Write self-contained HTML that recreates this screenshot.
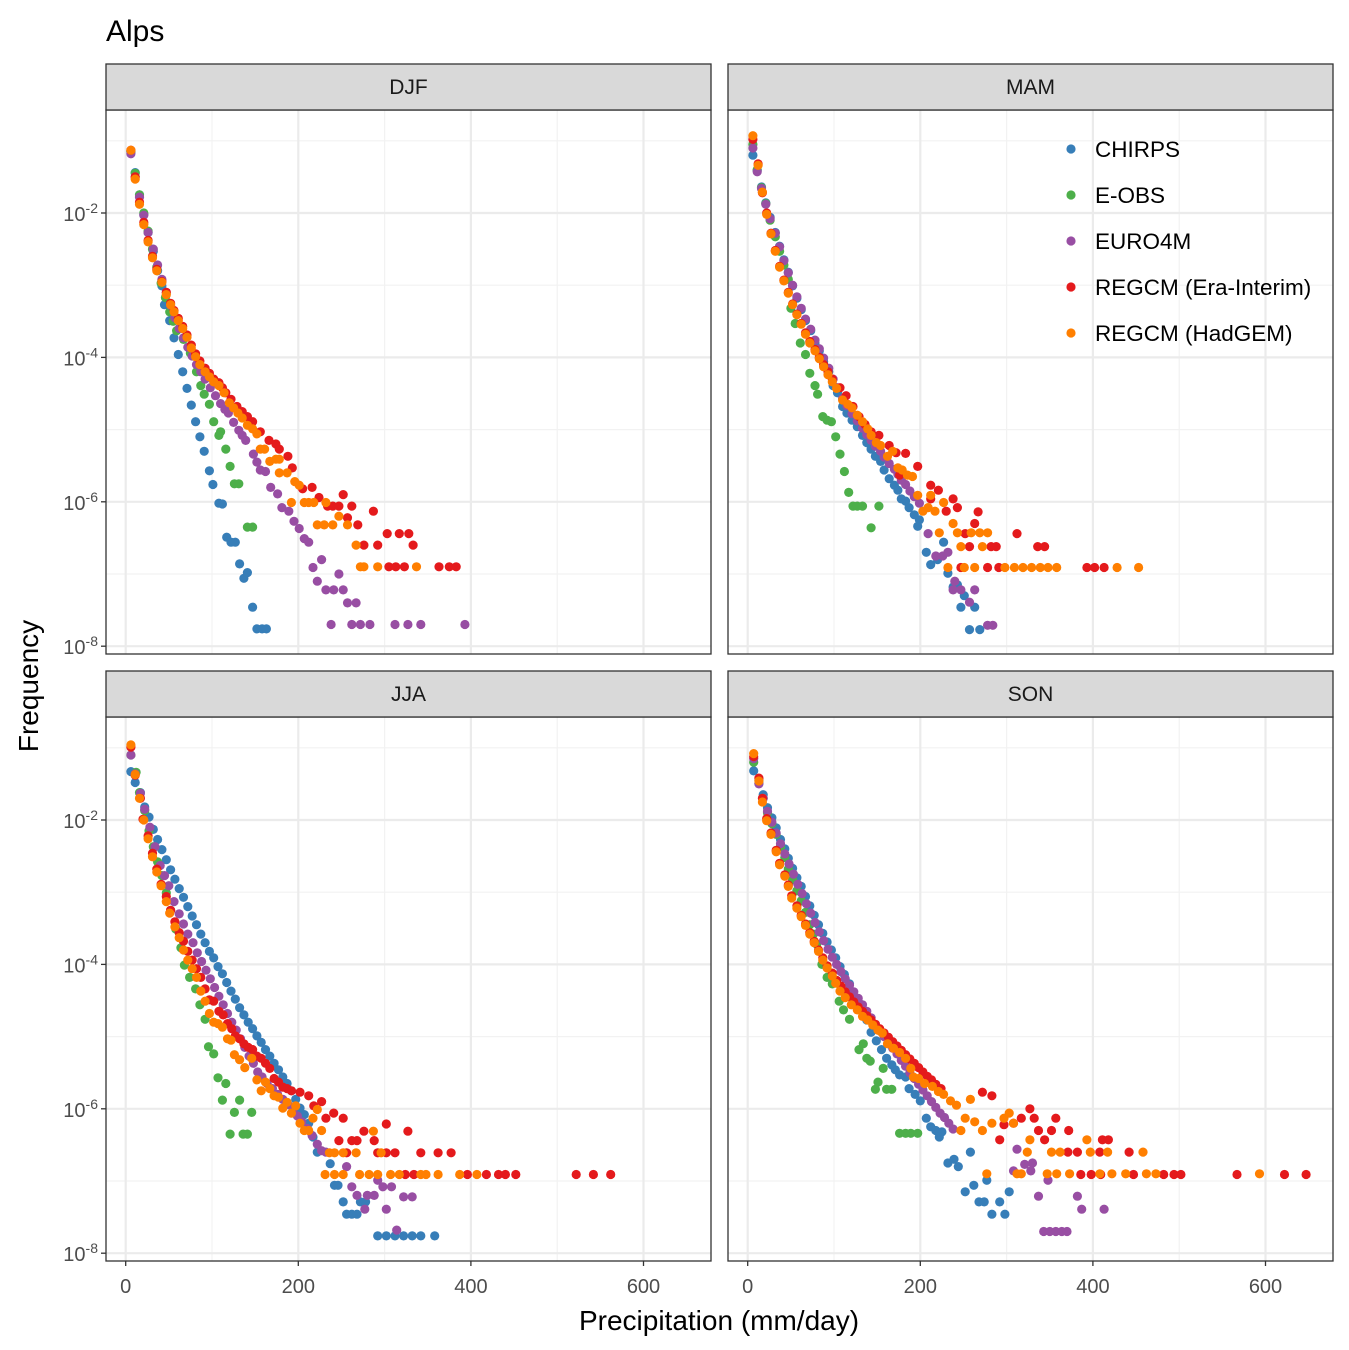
<!DOCTYPE html>
<html><head><meta charset="utf-8"><style>
html,body{margin:0;padding:0;background:#fff;}
svg{display:block;font-family:"Liberation Sans",Arial,sans-serif;}
</style></head><body>
<svg id="chart" width="1349" height="1350" viewBox="0 0 1349 1350" xmlns="http://www.w3.org/2000/svg">
<text x="106" y="41" font-size="30" fill="#000">Alps</text>
<text transform="translate(38,686) rotate(-90)" text-anchor="middle" font-size="28" fill="#000">Frequency</text>
<text x="719" y="1330" text-anchor="middle" font-size="28" fill="#000">Precipitation (mm/day)</text>
<g id="panels"></g>
<g id="legend"></g>
</svg>
<script>
const seriesNames = ["CHIRPS","E-OBS","EURO4M","REGCM (Era-Interim)","REGCM (HadGEM)"];
const seriesColors = ["#377EB8","#4DAF4A","#984EA3","#E41A1C","#FF7F00"];
const panelNames = ["DJF","MAM","JJA","SON"];
const xTickValues = [0,200,400,600];
const xTickLabels = ["0","200","400","600"];
const yTickExponents = [-2,-4,-6,-8];
const yTickLabels = ["-2","-4","-6","-8"];

// each point: [precipitation mm/day, log10(frequency)]
const djfChirps = [[6,-1.15],[11,-1.44],[16,-1.75],[21,-2.02],[26,-2.27],[32,-2.53],[37,-2.8],[42,-3.01],[45,-3.27],[51,-3.49],[56,-3.73],[61,-3.96],[66,-4.2],[71,-4.43],[76,-4.66],[81,-4.89],[86,-5.1],[91,-5.3],[97,-5.57],[101,-5.76],[108,-6.02],[112,-6.03],[117,-6.49],[122,-6.56],[127,-6.56],[132,-6.86],[137,-7.06],[141,-6.98],[147,-7.46],[152,-7.76],[158,-7.76],[163,-7.76]];
const djfEobs = [[6,-1.15],[11,-1.45],[16,-1.75],[21,-2.0],[26,-2.25],[31,-2.5],[36,-2.75],[41,-2.97],[46,-3.17],[51,-3.37],[55,-3.5],[59,-3.63],[67,-3.75],[75,-3.94],[82,-4.2],[87,-4.39],[91,-4.51],[97,-4.65],[102,-4.89],[110,-5.03],[108,-5.08],[116,-5.27],[121,-5.51],[126,-5.75],[131,-5.75],[141,-6.35],[147,-6.35]];
const djfEuro = [[6,-1.18],[11,-1.5],[16,-1.78],[21,-2.03],[26,-2.27],[32,-2.5],[37,-2.72],[42,-2.92],[47,-3.1],[52,-3.28],[57,-3.45],[62,-3.6],[67,-3.73],[72,-3.86],[77,-3.98],[82,-4.1],[87,-4.2],[92,-4.3],[98,-4.42],[104,-4.53],[110,-4.64],[115,-4.72],[119,-4.77],[125,-4.9],[131,-5.01],[135,-5.08],[139,-5.15],[148,-5.34],[152,-5.45],[156,-5.56],[162,-5.58],[168,-5.8],[176,-5.89],[181,-6.08],[189,-6.13],[195,-6.27],[201,-6.37],[207,-6.51],[212,-6.56],[217,-6.91],[227,-6.8],[222,-7.1],[247,-7.0],[232,-7.22],[241,-7.22],[252,-7.22],[257,-7.4],[267,-7.4],[238,-7.7],[262,-7.7],[272,-7.7],[283,-7.7],[312,-7.7],[327,-7.7],[342,-7.7],[393,-7.7]];
const djfRegEra = [[6,-1.13],[11,-1.5],[16,-1.85],[21,-2.13],[26,-2.38],[31,-2.6],[36,-2.78],[42,-2.95],[47,-3.1],[52,-3.25],[56,-3.35],[61,-3.46],[66,-3.57],[71,-3.69],[76,-3.83],[81,-3.95],[86,-4.05],[92,-4.15],[97,-4.22],[102,-4.3],[108,-4.35],[112,-4.42],[116,-4.49],[122,-4.58],[129,-4.68],[135,-4.75],[141,-4.82],[147,-4.89],[156,-5.03],[166,-5.15],[174,-5.2],[178,-5.27],[188,-5.37],[193,-5.53],[205,-5.82],[216,-5.8],[224,-5.94],[234,-6.06],[240,-6.06],[247,-6.06],[252,-5.9],[262,-6.06],[257,-6.22],[269,-6.32],[287,-6.13],[303,-6.44],[317,-6.44],[328,-6.44],[276,-6.6],[292,-6.6],[333,-6.6],[305,-6.9],[313,-6.9],[323,-6.9],[363,-6.9],[375,-6.9],[383,-6.9]];
const djfRegHad = [[6,-1.13],[11,-1.53],[16,-1.88],[21,-2.16],[26,-2.4],[31,-2.62],[36,-2.8],[42,-2.96],[47,-3.13],[52,-3.27],[56,-3.37],[61,-3.49],[66,-3.6],[71,-3.72],[76,-3.87],[81,-3.99],[86,-4.1],[92,-4.2],[97,-4.27],[102,-4.34],[108,-4.39],[114,-4.49],[120,-4.63],[125,-4.7],[130,-4.77],[135,-4.84],[141,-4.94],[147,-4.99],[152,-5.06],[156,-5.27],[161,-5.27],[167,-5.44],[174,-5.41],[178,-5.41],[178,-5.6],[187,-5.6],[196,-5.72],[201,-5.77],[192,-6.01],[207,-6.01],[212,-6.01],[218,-6.01],[232,-6.01],[222,-6.32],[230,-6.32],[240,-6.32],[247,-6.2],[257,-6.32],[267,-6.6],[272,-6.9],[276,-6.9],[292,-6.9],[337,-6.9]];

const mamChirps = [[6,-1.2],[11,-1.41],[16,-1.64],[21,-1.86],[26,-2.06],[32,-2.27],[37,-2.46],[42,-2.65],[47,-2.82],[52,-3.01],[57,-3.18],[62,-3.34],[67,-3.49],[73,-3.63],[78,-3.8],[83,-3.91],[88,-4.06],[94,-4.2],[99,-4.39],[104,-4.49],[110,-4.68],[115,-4.77],[121,-4.87],[127,-4.96],[133,-5.08],[138,-5.18],[143,-5.27],[148,-5.37],[154,-5.44],[158,-5.56],[164,-5.68],[170,-5.77],[174,-5.84],[178,-5.96],[183,-5.99],[187,-6.08],[193,-6.18],[199,-6.25],[197,-6.34],[207,-6.7],[212,-6.87],[220,-6.8],[227,-6.56],[232,-6.99],[238,-7.18],[243,-7.15],[251,-7.3],[247,-7.46],[263,-7.46],[257,-7.77],[269,-7.77]];
const mamEobs = [[6,-1.05],[11,-1.4],[16,-1.65],[21,-1.87],[26,-2.1],[32,-2.33],[37,-2.53],[42,-2.72],[47,-2.92],[50,-3.32],[55,-3.53],[61,-3.8],[67,-3.96],[72,-4.22],[78,-4.39],[81,-4.51],[87,-4.82],[92,-4.87],[97,-4.89],[102,-5.1],[107,-5.34],[112,-5.58],[117,-5.87],[122,-6.06],[127,-6.06],[133,-6.06],[152,-6.06],[143,-6.36]];
const mamEuro = [[6,-1.1],[11,-1.43],[16,-1.66],[21,-1.88],[26,-2.08],[32,-2.28],[37,-2.47],[42,-2.66],[47,-2.83],[52,-3.0],[57,-3.16],[62,-3.32],[67,-3.47],[73,-3.61],[78,-3.76],[83,-3.88],[88,-4.01],[94,-4.15],[99,-4.3],[104,-4.42],[110,-4.57],[115,-4.67],[121,-4.78],[127,-4.88],[133,-4.98],[138,-5.07],[143,-5.15],[148,-5.23],[154,-5.3],[158,-5.38],[164,-5.47],[170,-5.55],[174,-5.62],[178,-5.7],[183,-5.76],[188,-5.85],[193,-5.93],[199,-6.02],[209,-6.44],[218,-6.75],[226,-6.75],[232,-6.7],[240,-7.1],[238,-7.22],[247,-7.22],[263,-7.22],[257,-7.39],[278,-7.71],[284,-7.71]];
const mamRegEra = [[6,-0.98],[12,-1.32],[17,-1.72],[22,-2.0],[27,-2.28],[32,-2.52],[37,-2.74],[42,-2.93],[47,-3.1],[52,-3.26],[57,-3.4],[62,-3.53],[67,-3.66],[72,-3.78],[78,-3.89],[83,-4.0],[88,-4.1],[93,-4.2],[98,-4.3],[107,-4.42],[114,-4.53],[122,-4.68],[129,-4.82],[136,-4.93],[143,-5.03],[152,-5.08],[164,-5.22],[172,-5.32],[183,-5.33],[176,-5.63],[197,-5.51],[212,-5.77],[221,-5.84],[212,-5.96],[238,-5.96],[243,-6.08],[230,-6.13],[267,-6.14],[263,-6.3],[252,-6.44],[312,-6.44],[257,-6.62],[282,-6.62],[288,-6.62],[336,-6.62],[344,-6.62],[247,-6.91],[278,-6.91],[291,-6.91],[393,-6.91],[402,-6.91],[413,-6.91]];
const mamRegHad = [[6,-0.93],[12,-1.34],[17,-1.71],[22,-2.02],[27,-2.29],[32,-2.53],[37,-2.75],[42,-2.94],[47,-3.11],[52,-3.27],[57,-3.41],[62,-3.54],[67,-3.68],[72,-3.8],[78,-3.91],[83,-4.02],[88,-4.13],[93,-4.24],[98,-4.34],[103,-4.43],[110,-4.59],[116,-4.65],[121,-4.7],[127,-4.8],[133,-4.89],[139,-4.99],[143,-5.08],[149,-5.18],[154,-5.22],[162,-5.37],[168,-5.3],[174,-5.53],[179,-5.56],[185,-5.63],[191,-5.65],[197,-5.91],[203,-6.13],[209,-6.08],[212,-5.91],[217,-6.13],[227,-6.01],[222,-6.43],[238,-6.3],[243,-6.43],[259,-6.43],[269,-6.43],[278,-6.43],[247,-6.62],[272,-6.62],[232,-6.91],[251,-6.91],[263,-6.91],[298,-6.91],[309,-6.91],[319,-6.91],[329,-6.91],[339,-6.91],[348,-6.91],[358,-6.91],[428,-6.91],[453,-6.91]];

const jjaChirps = [[6,-1.33],[11,-1.48],[17,-1.62],[22,-1.82],[27,-1.96],[32,-2.13],[37,-2.27],[42,-2.41],[47,-2.55],[52,-2.69],[57,-2.82],[62,-2.95],[67,-3.07],[72,-3.2],[77,-3.33],[82,-3.45],[87,-3.58],[92,-3.7],[97,-3.82],[102,-3.91],[107,-4.03],[112,-4.13],[117,-4.25],[122,-4.37],[127,-4.48],[132,-4.6],[137,-4.7],[142,-4.8],[147,-4.89],[152,-4.99],[157,-5.08],[162,-5.18],[167,-5.27],[172,-5.37],[177,-5.46],[182,-5.56],[187,-5.65],[192,-5.75],[197,-5.87],[202,-5.99],[207,-6.08],[212,-6.2],[217,-6.39],[222,-6.6],[237,-6.76],[242,-7.06],[246,-7.06],[252,-7.29],[272,-7.29],[278,-7.29],[256,-7.46],[262,-7.46],[268,-7.46],[292,-7.76],[302,-7.76],[312,-7.76],[322,-7.76],[332,-7.76],[342,-7.76],[358,-7.76]];
const jjaEobs = [[6,-1.1],[12,-1.34],[16,-1.62],[22,-1.87],[27,-2.15],[32,-2.37],[37,-2.58],[42,-2.77],[47,-3.01],[52,-3.25],[58,-3.51],[64,-3.77],[68,-4.01],[74,-4.18],[81,-4.34],[86,-4.56],[92,-4.76],[96,-5.14],[102,-5.24],[107,-5.57],[116,-5.65],[112,-5.88],[132,-5.88],[126,-6.05],[146,-6.05],[121,-6.35],[136,-6.35],[141,-6.35]];
const jjaEuro = [[6,-1.1],[11,-1.36],[17,-1.63],[22,-1.85],[28,-2.1],[34,-2.37],[40,-2.63],[45,-2.77],[50,-2.91],[56,-3.13],[62,-3.3],[67,-3.44],[72,-3.58],[78,-3.7],[83,-3.84],[88,-3.96],[93,-4.08],[98,-4.2],[103,-4.32],[108,-4.44],[113,-4.56],[118,-4.68],[123,-4.8],[128,-4.91],[133,-5.03],[138,-5.15],[143,-5.27],[148,-5.37],[153,-5.49],[158,-5.56],[164,-5.65],[170,-5.72],[176,-5.8],[182,-5.87],[188,-5.94],[194,-6.01],[199,-6.1],[204,-6.18],[210,-6.27],[216,-6.37],[222,-6.49],[227,-6.58],[232,-6.6],[256,-6.8],[262,-7.08],[268,-7.2],[280,-7.2],[288,-7.2],[292,-6.99],[298,-7.08],[308,-7.08],[322,-7.22],[332,-7.22],[277,-7.39],[302,-7.39],[314,-7.68]];
const jjaRegEra = [[6,-0.99],[11,-1.38],[17,-1.7],[20,-1.99],[26,-2.22],[31,-2.46],[36,-2.68],[41,-2.89],[47,-3.06],[52,-3.25],[57,-3.41],[62,-3.56],[67,-3.68],[72,-3.82],[77,-3.94],[82,-4.06],[87,-4.18],[92,-4.34],[97,-4.49],[102,-4.51],[108,-4.65],[113,-4.7],[118,-4.82],[123,-4.89],[127,-4.99],[132,-5.03],[137,-5.1],[142,-5.15],[147,-5.18],[152,-5.27],[157,-5.3],[162,-5.37],[167,-5.44],[172,-5.58],[177,-5.63],[182,-5.7],[187,-5.72],[192,-5.75],[202,-5.77],[212,-5.82],[218,-5.96],[227,-5.9],[232,-6.13],[241,-6.06],[252,-6.13],[276,-6.31],[302,-6.21],[327,-6.31],[247,-6.44],[262,-6.44],[268,-6.44],[288,-6.44],[256,-6.61],[292,-6.61],[302,-6.61],[312,-6.61],[342,-6.61],[362,-6.61],[377,-6.61],[324,-6.91],[334,-6.91],[396,-6.91],[418,-6.91],[432,-6.91],[440,-6.91],[452,-6.91],[522,-6.91],[542,-6.91],[562,-6.91]];
const jjaRegHad = [[6,-0.96],[11,-1.37],[16,-1.7],[21,-2.0],[26,-2.26],[31,-2.51],[36,-2.72],[41,-2.91],[47,-3.13],[51,-3.29],[57,-3.48],[62,-3.63],[67,-3.8],[72,-3.94],[77,-4.06],[82,-4.18],[87,-4.37],[92,-4.51],[97,-4.68],[102,-4.8],[107,-4.82],[112,-4.87],[118,-5.03],[122,-5.05],[126,-5.25],[132,-5.32],[138,-5.43],[146,-5.3],[152,-5.6],[157,-5.75],[162,-5.63],[167,-5.72],[172,-5.82],[177,-5.84],[182,-5.99],[187,-5.91],[192,-6.06],[197,-5.96],[202,-6.2],[207,-6.3],[212,-6.3],[217,-6.13],[222,-6.01],[227,-6.3],[236,-6.61],[242,-6.61],[252,-6.61],[267,-6.61],[287,-6.31],[296,-6.61],[231,-6.91],[242,-6.91],[252,-6.91],[271,-6.91],[282,-6.91],[292,-6.91],[307,-6.91],[317,-6.91],[342,-6.91],[348,-6.91],[362,-6.91],[387,-6.91],[407,-6.91]];

const sonChirps = [[7,-1.32],[13,-1.49],[18,-1.65],[23,-1.83],[28,-1.97],[33,-2.11],[38,-2.27],[43,-2.4],[47,-2.53],[52,-2.67],[57,-2.8],[62,-2.92],[67,-3.06],[72,-3.19],[77,-3.32],[82,-3.45],[87,-3.57],[92,-3.69],[97,-3.8],[102,-3.91],[107,-4.03],[112,-4.14],[118,-4.27],[122,-4.39],[128,-4.51],[133,-4.63],[138,-4.77],[143,-4.94],[149,-5.06],[155,-5.18],[161,-5.3],[167,-5.39],[171,-5.46],[176,-5.53],[183,-5.56],[187,-5.72],[194,-5.8],[200,-5.89],[207,-6.13],[212,-6.25],[218,-6.3],[225,-6.32],[222,-6.39],[232,-6.75],[239,-6.7],[244,-6.8],[258,-6.6],[252,-7.15],[262,-7.06],[268,-7.29],[274,-7.29],[283,-7.46],[292,-7.29],[298,-7.46],[303,-7.15],[277,-6.99]];
const sonEobs = [[7,-1.2],[13,-1.45],[18,-1.7],[23,-1.9],[28,-2.05],[33,-2.2],[38,-2.37],[43,-2.52],[47,-2.68],[52,-2.83],[57,-2.98],[62,-3.12],[67,-3.28],[72,-3.45],[76,-3.58],[80,-3.72],[86,-4.0],[92,-4.18],[98,-4.27],[106,-4.51],[111,-4.63],[118,-4.76],[129,-5.18],[134,-5.1],[138,-5.3],[142,-5.34],[157,-5.44],[151,-5.63],[148,-5.73],[161,-5.73],[167,-5.73],[176,-6.34],[183,-6.34],[189,-6.34],[197,-6.34]];
const sonEuro = [[7,-1.15],[13,-1.5],[18,-1.7],[23,-1.88],[28,-2.03],[33,-2.18],[38,-2.33],[43,-2.47],[48,-2.61],[53,-2.75],[58,-2.89],[63,-3.02],[68,-3.16],[73,-3.29],[78,-3.42],[83,-3.55],[88,-3.67],[93,-3.79],[98,-3.9],[103,-4.0],[108,-4.1],[113,-4.2],[118,-4.29],[123,-4.38],[128,-4.47],[133,-4.56],[138,-4.65],[143,-4.74],[148,-4.83],[153,-4.92],[158,-5.0],[163,-5.08],[168,-5.16],[173,-5.24],[178,-5.33],[183,-5.41],[188,-5.5],[193,-5.58],[198,-5.66],[203,-5.74],[208,-5.82],[213,-5.9],[218,-5.98],[223,-6.06],[228,-6.12],[233,-6.2],[238,-6.28],[312,-6.56],[321,-6.77],[330,-6.75],[308,-6.86],[328,-6.86],[348,-6.99],[337,-7.21],[382,-7.21],[387,-7.39],[413,-7.39],[343,-7.7],[350,-7.7],[357,-7.7],[364,-7.7],[370,-7.7]];
const sonRegEra = [[7,-1.12],[13,-1.42],[17,-1.7],[22,-1.98],[27,-2.18],[33,-2.42],[37,-2.6],[43,-2.76],[47,-2.9],[51,-3.05],[57,-3.19],[62,-3.32],[67,-3.44],[72,-3.56],[77,-3.68],[82,-3.8],[87,-3.91],[92,-4.02],[98,-4.12],[103,-4.22],[108,-4.3],[113,-4.38],[118,-4.45],[123,-4.52],[128,-4.59],[133,-4.65],[138,-4.71],[143,-4.77],[148,-4.83],[153,-4.89],[158,-4.95],[163,-5.01],[168,-5.07],[173,-5.13],[178,-5.19],[183,-5.25],[188,-5.31],[193,-5.37],[198,-5.43],[203,-5.49],[208,-5.55],[213,-5.6],[218,-5.66],[224,-5.72],[272,-5.77],[283,-5.82],[292,-6.43],[297,-6.22],[308,-6.2],[317,-6.13],[327,-6.0],[332,-6.13],[357,-6.13],[337,-6.3],[352,-6.3],[372,-6.3],[344,-6.43],[411,-6.43],[418,-6.43],[371,-6.6],[382,-6.6],[408,-6.6],[442,-6.6],[386,-6.91],[398,-6.91],[409,-6.91],[447,-6.91],[482,-6.91],[494,-6.91],[502,-6.91],[567,-6.91],[622,-6.91],[647,-6.91]];
const sonRegHad = [[7,-1.08],[13,-1.46],[17,-1.75],[22,-2.01],[27,-2.2],[33,-2.44],[37,-2.62],[43,-2.78],[47,-2.92],[51,-3.08],[57,-3.22],[62,-3.34],[67,-3.46],[72,-3.58],[77,-3.7],[82,-3.82],[87,-3.94],[92,-4.05],[98,-4.16],[102,-4.26],[107,-4.37],[113,-4.46],[120,-4.56],[127,-4.63],[133,-4.72],[139,-4.77],[145,-4.84],[151,-4.91],[156,-4.95],[162,-5.1],[169,-5.16],[176,-5.22],[183,-5.3],[189,-5.44],[192,-5.56],[198,-5.58],[205,-5.65],[214,-5.69],[221,-5.76],[227,-5.8],[235,-5.89],[242,-5.95],[247,-6.3],[252,-6.13],[258,-5.87],[263,-6.18],[272,-6.3],[283,-6.2],[297,-6.13],[303,-6.06],[308,-6.2],[327,-6.43],[393,-6.43],[324,-6.6],[352,-6.6],[362,-6.6],[397,-6.6],[417,-6.6],[458,-6.6],[277,-6.9],[312,-6.9],[317,-6.9],[347,-6.9],[358,-6.9],[373,-6.9],[408,-6.9],[422,-6.9],[438,-6.9],[462,-6.9],[473,-6.9],[593,-6.9]];

const panelData = [
  [djfChirps, djfEobs, djfEuro, djfRegEra, djfRegHad],
  [mamChirps, mamEobs, mamEuro, mamRegEra, mamRegHad],
  [jjaChirps, jjaEobs, jjaEuro, jjaRegEra, jjaRegHad],
  [sonChirps, sonEobs, sonEuro, sonRegEra, sonRegHad]
];

const NS = "http://www.w3.org/2000/svg";
function mk(tag, attrs, parent){
  const e = document.createElementNS(NS, tag);
  for (const k in attrs) e.setAttribute(k, attrs[k]);
  if (parent) parent.appendChild(e);
  return e;
}
const panelsG = document.getElementById("panels");
const layout = [
  {left:106, right:711, stripTop:64, top:110, bottom:654},
  {left:728, right:1333, stripTop:64, top:110, bottom:654},
  {left:106, right:711, stripTop:671, top:717, bottom:1261},
  {left:728, right:1333, stripTop:671, top:717, bottom:1261}
];
const pxPer100 = 86.3;
const pxPerDecade = 72.2;

layout.forEach((L, pi) => {
  const g = mk("g", {}, panelsG);
  
  
  const x0 = L.left + 19.7;
  const yRef = L.top + 103;
  const xScale = v => x0 + v * pxPer100 / 100;
  const yScale = lg => yRef + (-2 - lg) * pxPerDecade;
  const w = L.right - L.left, h = L.bottom - L.top;
  mk("rect", {x:L.left, y:L.top, width:w, height:h, fill:"#fff"}, g);
  const cp = mk("clipPath", {id:"clip"+pi}, g);
  mk("rect", {x:L.left, y:L.top, width:w, height:h}, cp);
  const grid = mk("g", {}, g);
  
  
  [100,300,500].forEach(v => mk("line",{x1:xScale(v),x2:xScale(v),y1:L.top,y2:L.bottom,stroke:"#f2f2f2","stroke-width":1.2},grid));
  [-1,-3,-5,-7].forEach(v => mk("line",{x1:L.left,x2:L.right,y1:yScale(v),y2:yScale(v),stroke:"#f2f2f2","stroke-width":1.2},grid));
  xTickValues.forEach(v => mk("line",{x1:xScale(v),x2:xScale(v),y1:L.top,y2:L.bottom,stroke:"#ebebeb","stroke-width":2.2},grid));
  yTickExponents.forEach(v => mk("line",{x1:L.left,x2:L.right,y1:yScale(v),y2:yScale(v),stroke:"#ebebeb","stroke-width":2.2},grid));
  const pts = mk("g", {"clip-path":"url(#clip"+pi+")"}, g);
  panelData[pi].forEach((series, si) => {
    const sg = mk("g", {fill:seriesColors[si]}, pts);
    
    
    series.forEach(p => {
      const c = mk("circle", {cx:xScale(p[0]).toFixed(1), cy:yScale(p[1]).toFixed(1), r:4.6}, sg);
      
      
    });
  });
  mk("rect", {x:L.left, y:L.top, width:w, height:h, fill:"none", stroke:"#333", "stroke-width":1.3}, g);
  const strip = mk("rect", {x:L.left, y:L.stripTop, width:w, height:L.top-L.stripTop, fill:"#d9d9d9", stroke:"#333", "stroke-width":1.3}, g);
  
  
  const st = mk("text", {x:(L.left+L.right)/2, y:L.stripTop+30, "text-anchor":"middle", "font-size":21, fill:"#1a1a1a"}, g);
  st.textContent = panelNames[pi];
  
  
  if (pi % 2 === 0) {
    yTickExponents.forEach((v, i) => {
      const y = yScale(v);
      mk("line",{x1:L.left-5,x2:L.left,y1:y,y2:y,stroke:"#333","stroke-width":1.3},g);
      const t = mk("text",{x:L.left-8,y:y+8,"text-anchor":"end","font-size":20,fill:"#4d4d4d"},g);
      
      
      const a = mk("tspan",{},t); a.textContent = "10";
      const b = mk("tspan",{"font-size":14,dy:-8},t); b.textContent = yTickLabels[i];
    });
  }
  if (pi >= 2) {
    xTickValues.forEach((v, i) => {
      const x = xScale(v);
      mk("line",{x1:x,x2:x,y1:L.bottom,y2:L.bottom+5,stroke:"#333","stroke-width":1.3},g);
      const t = mk("text",{x:x,y:L.bottom+32,"text-anchor":"middle","font-size":20,fill:"#4d4d4d"},g);
      t.textContent = xTickLabels[i];
      
      
    });
  }
});

const lg = document.getElementById("legend");
seriesNames.forEach((n, i) => {
  const y = 149 + i * 46;
  const item = mk("g", {}, lg);
  
  
  mk("circle", {cx:1071, cy:y, r:4.6, fill:seriesColors[i]}, item);
  const t = mk("text", {x:1095, y:y+8, "font-size":22.5, fill:"#000"}, item);
  t.textContent = n;
});
</script>
</body></html>
